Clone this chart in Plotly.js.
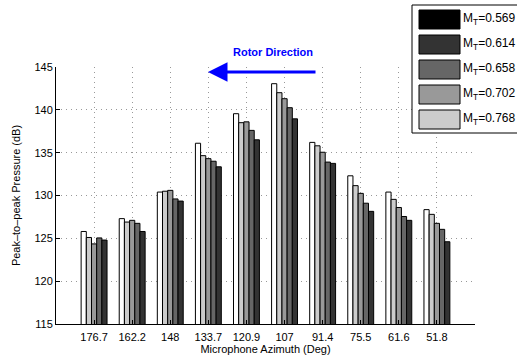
<!DOCTYPE html>
<html>
<head>
<meta charset="utf-8">
<script src="https://cdn.plot.ly/plotly-3.0.1.min.js"></script>
<style>html,body{margin:0;padding:0;background:#fff;}#chart{width:517px;height:364px;}</style>
</head>
<body>
<div id="chart"></div>
<script>
// Data
const categories = ["176.7","162.2","148","133.7","120.9","107","91.4","75.5","61.6","51.8"];
const series1 = [125.8, 127.3, 130.4, 136.1, 139.55, 143.05, 136.2, 132.3, 130.4, 128.35];
const series2 = [125.1, 126.9, 130.5, 134.65, 138.5, 142.0, 135.8, 131.15, 129.55, 127.8];
const series3 = [124.35, 127.1, 130.6, 134.3, 138.6, 141.3, 135.05, 130.25, 128.6, 126.75];
const series4 = [125.05, 126.75, 129.6, 134.0, 137.6, 140.25, 133.9, 129.1, 127.55, 126.05];
const series5 = [124.8, 125.8, 129.35, 133.35, 136.5, 138.95, 133.75, 128.15, 127.1, 124.6];
const legendLabels = ["M<sub>T</sub>=0.569","M<sub>T</sub>=0.614","M<sub>T</sub>=0.658","M<sub>T</sub>=0.702","M<sub>T</sub>=0.768"];
const yTicks = [115,120,125,130,135,140,145];

const barColors = ["#ffffff","#cccccc","#999999","#666666","#333333"];
const legendColors = ["#000000","#333333","#666666","#999999","#cccccc"];
const allSeries = [series1,series2,series3,series4,series5];
const xs = categories.map((c,i)=>i+1);

const traces = allSeries.map((s,k)=>({
  type:'bar', x: xs, y: s, name: 'S'+(k+1), showlegend:false,
  marker:{color: barColors[k], line:{color:'#000', width:1}},
  hoverinfo:'y'
}));

const W=517,H=364, L=56, R=42, T=67, B=40;
const pw = W-L-R, ph = H-T-B;
const px = x => (x-L)/pw;
const py = y => (H-B-y)/ph;

const shapes = [];
const annotations = [];
// legend box
shapes.push({type:'rect', xref:'paper', yref:'paper', x0:px(412), x1:px(530), y0:py(133), y1:py(5), line:{color:'#000',width:1}, fillcolor:'#fff', layer:'above'});
legendColors.forEach((c,i)=>{
  const top = 10 + i*25;
  shapes.push({type:'rect', xref:'paper', yref:'paper', x0:px(419), x1:px(460), y0:py(top+19), y1:py(top), line:{color:'#000',width:1}, fillcolor:c, layer:'above'});
  annotations.push({xref:'paper', yref:'paper', x:px(461), y:py(top+9), xanchor:'left', yanchor:'middle', text:legendLabels[i], showarrow:false, font:{size:12, color:'#000'}});
});
// Rotor direction
annotations.push({xref:'paper', yref:'paper', x:px(272.5), y:py(51.5), xanchor:'center', yanchor:'middle', text:'<b>Rotor Direction</b>', showarrow:false, font:{size:11, color:'#0000ff'}});
annotations.push({xref:'paper', yref:'paper', x:px(208), y:py(72), text:'', showarrow:true, ax:109, ay:0, arrowhead:2, arrowsize:1.3, arrowwidth:3, arrowcolor:'#0000ff', standoff:0, startstandoff:0});

const layout = {
  width:W, height:H,
  margin:{l:L, r:R, t:T, b:B, pad:0},
  paper_bgcolor:'#fff', plot_bgcolor:'#fff',
  font:{family:'"Liberation Sans", Arial, sans-serif', size:11, color:'#000'},
  barmode:'group', bargap:0.32, bargroupgap:0,
  showlegend:false,
  xaxis:{range:[0,11], tickvals:xs, ticktext:categories, showline:true, linecolor:'#000', linewidth:1,
    ticks:'inside', ticklen:4, tickcolor:'#000', showgrid:true, gridcolor:'#999', griddash:'1px,4px', gridwidth:1,
    zeroline:false, mirror:false, tickfont:{size:11}, ticklabelstandoff:3,
    title:{text:'Microphone Azimuth (Deg)', font:{size:11}, standoff:3}},
  yaxis:{range:[115,145], tickvals:yTicks, showline:true, linecolor:'#000', linewidth:1,
    ticks:'inside', ticklen:4, tickcolor:'#000', showgrid:true, gridcolor:'#999', griddash:'1px,4px', gridwidth:1,
    zeroline:false, mirror:false, tickfont:{size:11},
    title:{text:'Peak–to–peak Pressure (dB)', font:{size:11}, standoff:11}},
  shapes:shapes, annotations:annotations
};
Plotly.newPlot('chart', traces, layout, {staticPlot:true, displayModeBar:false});
</script>
</body>
</html>
